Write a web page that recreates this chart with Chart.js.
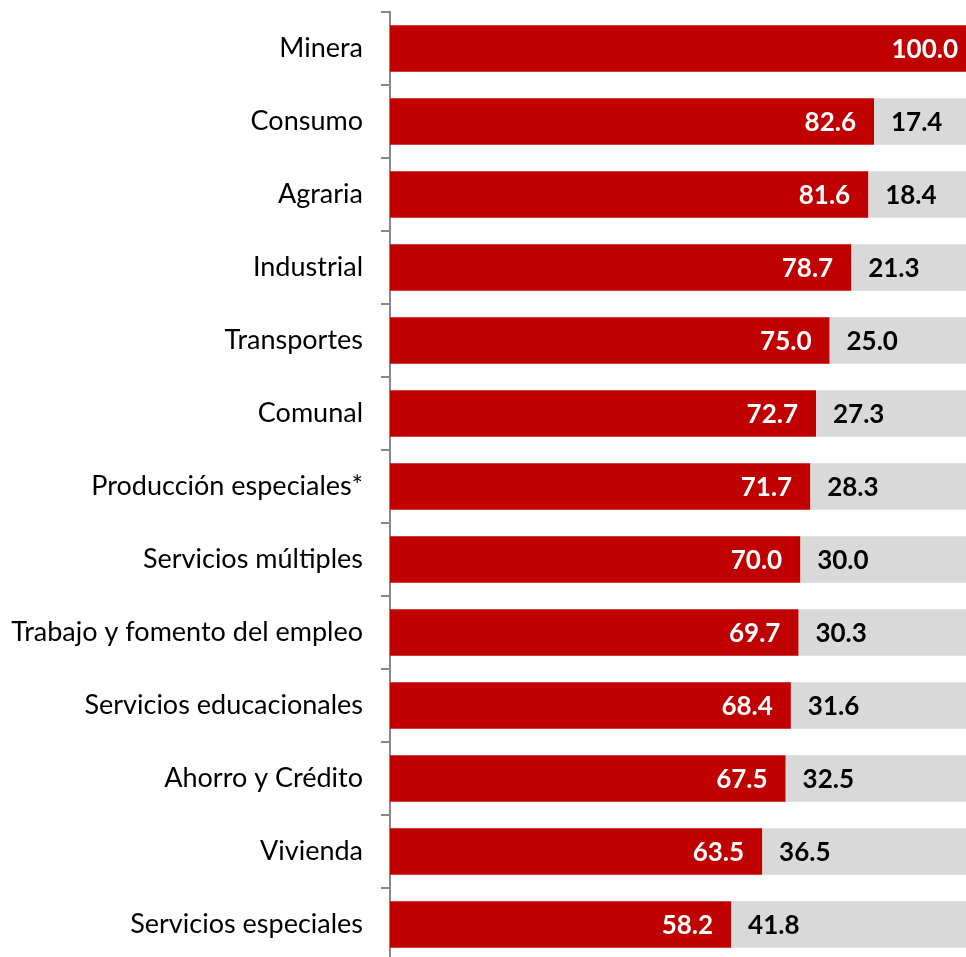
<!DOCTYPE html>
<html>
<head>
<meta charset="utf-8">
<script src="https://cdn.jsdelivr.net/npm/chart.js@4/dist/chart.umd.min.js"></script>
<style>
  html, body { margin: 0; padding: 0; overflow: hidden; background: #fff; }
  #wrap { width: 976px; height: 961px; }
</style>
</head>
<body>
<div id="wrap"><canvas id="barChart" width="976" height="961" style="width:976px;height:961px"></canvas></div>
<script>
const categories = [
  "Minera", "Consumo", "Agraria", "Industrial", "Transportes", "Comunal",
  "Producción especiales*", "Servicios múltiples", "Trabajo y fomento del empleo",
  "Servicios educacionales", "Ahorro y Crédito", "Vivienda", "Servicios especiales"
];
const redValues = [100.0, 82.6, 81.6, 78.7, 75.0, 72.7, 71.7, 70.0, 69.7, 68.4, 67.5, 63.5, 58.2];
const greyValues = [0, 17.4, 18.4, 21.3, 25.0, 27.3, 28.3, 30.0, 30.3, 31.6, 32.5, 36.5, 41.8];

// draw the value labels inside the bars
const valueLabels = {
  id: "valueLabels",
  afterDatasetsDraw(chart) {
    const ctx = chart.ctx;
    ctx.save();
    ctx.font = "bold 26px Lato";
    ctx.textBaseline = "middle";
    chart.data.datasets.forEach((ds, i) => {
      chart.getDatasetMeta(i).data.forEach((bar, j) => {
        const v = ds.data[j];
        if (!v) return;
        if (i === 0) {
          ctx.fillStyle = "#ffffff";
          ctx.textAlign = "right";
          ctx.fillText(v.toFixed(1), bar.x - 18, bar.y + 1);
        } else {
          ctx.fillStyle = "#000000";
          ctx.textAlign = "left";
          ctx.fillText(v.toFixed(1), bar.base + 17, bar.y + 1);
        }
      });
    });
    ctx.restore();
  },
};

new Chart(document.getElementById("barChart").getContext("2d"), {
  type: "bar",
  data: {
    labels: categories,
    datasets: [
      {
        data: redValues,
        backgroundColor: "#C00000",
        barPercentage: 0.64,
        categoryPercentage: 1,
      },
      {
        data: greyValues,
        backgroundColor: "#D9D9D9",
        barPercentage: 0.64,
        categoryPercentage: 1,
      },
    ],
  },
  options: {
    indexAxis: "y",
    responsive: false,
    animation: false,
    layout: { padding: { top: 12, right: 0, bottom: 0, left: 0 } },
    plugins: {
      legend: { display: false },
      tooltip: { enabled: false },
    },
    scales: {
      x: {
        stacked: true,
        min: 0,
        max: 100,
        display: false,
      },
      y: {
        stacked: true,
        afterFit(scale) {
          scale.width = 390;
          scale.paddingTop = 0;
          scale.paddingBottom = 0;
        },
        border: { color: "#888888", width: 2 },
        grid: {
          drawOnChartArea: false,
          color: "#888888",
          lineWidth: 2,
          tickLength: 9,
        },
        ticks: {
          padding: 18,
          color: "#000000",
          font: { family: "Lato", size: 27 },
        },
      },
    },
  },
  plugins: [valueLabels],
});
</script>
</body>
</html>
